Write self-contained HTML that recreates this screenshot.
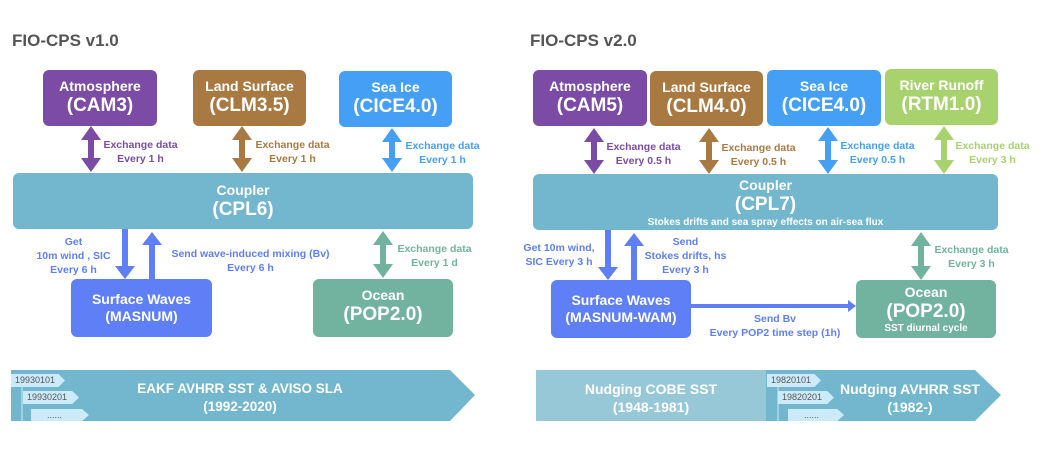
<!DOCTYPE html>
<html><head><meta charset="utf-8"><style>
body{margin:0;width:1041px;height:460px;background:#fff;position:relative;overflow:hidden;font-family:"Liberation Sans","DejaVu Sans",sans-serif;font-weight:bold}
.a{position:absolute}
.b{position:absolute;border-radius:6px;color:#fff;text-align:center;box-sizing:border-box}
.t1{font-size:14px;line-height:17px}
.t2{font-size:19px;line-height:22px}
.l{position:absolute;font-size:10.5px;line-height:14px;text-align:center;white-space:nowrap}
.tab{position:absolute;background:#CCEBFA;color:#555;font-size:9px;font-weight:normal;line-height:13px;padding-left:4px;box-sizing:border-box}
</style></head><body>
<div class="a" style="left:12px;top:31px;font-size:17px;color:#555">FIO-CPS v1.0</div>
<div class="a" style="left:530px;top:31px;font-size:17px;color:#555">FIO-CPS v2.0</div>

<div class="b" style="left:43px;top:70px;width:114px;height:56px;background:#7B4BA6;padding-top:8px"><div class="t1">Atmosphere</div><div class="t2">(CAM3)</div></div>
<div class="b" style="left:193px;top:70px;width:113px;height:56px;background:#A87A41;padding-top:8px"><div class="t1">Land Surface</div><div class="t2">(CLM3.5)</div></div>
<div class="b" style="left:339px;top:71px;width:113px;height:56px;background:#45A0F5;padding-top:8px"><div class="t1">Sea Ice</div><div class="t2">(CICE4.0)</div></div>
<div class="b" style="left:13px;top:173px;width:460px;height:56px;background:#72B7CE;padding-top:9px"><div class="t1">Coupler</div><div class="t2">(CPL6)</div></div>
<div class="b" style="left:71px;top:279px;width:141px;height:58px;background:#5E7FF5;padding-top:12px"><div class="t1">Surface Waves</div><div class="t1">(MASNUM)</div></div>
<div class="b" style="left:313px;top:279px;width:140px;height:58px;background:#72B3A0;padding-top:8px"><div class="t1">Ocean</div><div class="t2">(POP2.0)</div></div>

<div class="b" style="left:533px;top:70px;width:114px;height:56px;background:#7B4BA6;padding-top:8px"><div class="t1">Atmosphere</div><div class="t2">(CAM5)</div></div>
<div class="b" style="left:650px;top:71px;width:113px;height:55px;background:#A87A41;padding-top:8px"><div class="t1">Land Surface</div><div class="t2">(CLM4.0)</div></div>
<div class="b" style="left:767px;top:70px;width:114px;height:56px;background:#45A0F5;padding-top:8px"><div class="t1">Sea Ice</div><div class="t2">(CICE4.0)</div></div>
<div class="b" style="left:885px;top:69px;width:113px;height:56px;background:#A8D26E;padding-top:8px"><div class="t1">River Runoff</div><div class="t2">(RTM1.0)</div></div>
<div class="b" style="left:533px;top:174px;width:465px;height:56px;background:#72B7CE;padding-top:3px"><div class="t1">Coupler</div><div class="t2">(CPL7)</div><div style="font-size:10px;line-height:13px">Stokes drifts and sea spray effects on air-sea flux</div></div>
<div class="b" style="left:551px;top:280px;width:140px;height:58px;background:#5E7FF5;padding-top:12px"><div class="t1">Surface Waves</div><div class="t1">(MASNUM-WAM)</div></div>
<div class="b" style="left:856px;top:280px;width:140px;height:58px;background:#72B3A0;padding-top:4px"><div class="t1">Ocean</div><div class="t2">(POP2.0)</div><div style="font-size:10px;line-height:12px">SST diurnal cycle</div></div>

<svg class="a" style="left:0;top:0" width="1041" height="460">
<defs>
<marker id="h" viewBox="0 0 10 10" refX="5" refY="5" markerWidth="1" markerHeight="1"></marker>
</defs>
<g id="arrows">
<!-- double arrows: polygon -->
<polygon fill="#7B4BA6" points="91,126 101,140 94,140 94,158 101,158 91,172 81,158 88,158 88,140 81,140"/>
<polygon fill="#A87A41" points="242,126 252,140 245,140 245,158 252,158 242,172 232,158 239,158 239,140 232,140"/>
<polygon fill="#45A0F5" points="392,128 402,142 395,142 395,158 402,158 392,172 382,158 389,158 389,142 382,142"/>
<polygon fill="#72B3A0" points="383,231 393,245 386,245 386,264 393,264 383,278 373,264 380,264 380,245 373,245"/>
<polygon fill="#5E7FF5" points="122,229 128,229 128,266 135,266 125,279 115,266 122,266"/>
<polygon fill="#5E7FF5" points="149,279 155,279 155,245 162,245 152,232 142,245 149,245"/>

<polygon fill="#7B4BA6" points="594,128 604,142 597,142 597,160 604,160 594,174 584,160 591,160 591,142 584,142"/>
<polygon fill="#A87A41" points="709,128 719,142 712,142 712,160 719,160 709,174 699,160 706,160 706,142 699,142"/>
<polygon fill="#45A0F5" points="828,127 838,141 831,141 831,160 838,160 828,174 818,160 825,160 825,141 818,141"/>
<polygon fill="#A8D26E" points="944,126 954,140 947,140 947,160 954,160 944,174 934,160 941,160 941,140 934,140"/>
<polygon fill="#72B3A0" points="921,232 931,246 924,246 924,266 931,266 921,280 911,266 918,266 918,246 911,246"/>
<polygon fill="#5E7FF5" points="605,230 611,230 611,267 618,267 608,280 598,267 605,267"/>
<polygon fill="#5E7FF5" points="631,280 637,280 637,246 644,246 634,233 624,246 631,246"/>
<polygon fill="#5E7FF5" points="691,304 848,304 848,300 856,306 848,312 848,308 691,308"/>
</g>
<!-- bottom bars -->
<polygon fill="#72B7CE" points="11,370 450,370 475,395 450,421 11,421"/>
<polygon fill="#96C8D8" points="536,370 766,370 766,421 536,421"/>
<polygon fill="#72B7CE" points="766,370 975,370 1001,395 975,421 766,421"/>
<line x1="22" y1="387" x2="22" y2="421" stroke="#CCEBFA" stroke-width="1"/>
<line x1="778" y1="387" x2="778" y2="421" stroke="#CCEBFA" stroke-width="1"/>
</svg>

<div class="l" style="left:98px;top:138px;color:#7B4BA6;width:85px">Exchange data<br>Every 1 h</div>
<div class="l" style="left:250px;top:138px;color:#A87A41;width:85px">Exchange data<br>Every 1 h</div>
<div class="l" style="left:400px;top:139px;color:#45A0F5;width:85px">Exchange data<br>Every 1 h</div>
<div class="l" style="left:26px;top:235px;color:#5E7FF5;width:95px">Get<br>10m wind , SIC<br>Every 6 h</div>
<div class="l" style="left:158px;top:247px;color:#5E7FF5;width:185px">Send wave-induced mixing (Bv)<br>Every 6 h</div>
<div class="l" style="left:392px;top:242px;color:#72B3A0;width:85px">Exchange data<br>Every 1 d</div>

<div class="l" style="left:601px;top:140px;color:#7B4BA6;width:85px">Exchange data<br>Every 0.5 h</div>
<div class="l" style="left:716px;top:141px;color:#A87A41;width:85px">Exchange data<br>Every 0.5 h</div>
<div class="l" style="left:835px;top:139px;color:#45A0F5;width:85px">Exchange data<br>Every 0.5 h</div>
<div class="l" style="left:950px;top:139px;color:#A8D26E;width:85px">Exchange data<br>Every 3 h</div>
<div class="l" style="left:514px;top:241px;color:#5E7FF5;width:90px">Get 10m wind,<br>SIC Every 3 h</div>
<div class="l" style="left:638px;top:235px;color:#5E7FF5;width:95px">Send<br>Stokes drifts, hs<br>Every 3 h</div>
<div class="l" style="left:929px;top:243px;color:#72B3A0;width:85px">Exchange data<br>Every 3 h</div>
<div class="l" style="left:700px;top:312px;color:#5E7FF5;width:150px">Send Bv<br>Every POP2 time step (1h)</div>

<div class="tab" style="left:11px;top:374px;width:54px;clip-path:polygon(0 0,88% 0,100% 50%,88% 100%,0 100%)">19930101</div>
<div class="tab" style="left:23px;top:391px;width:56px;clip-path:polygon(0 0,88% 0,100% 50%,88% 100%,0 100%)">19930201</div>
<div class="tab" style="left:31px;top:409px;width:58px;height:12px;clip-path:polygon(0 0,88% 0,100% 50%,88% 100%,0 100%);padding-left:16px">......</div>
<div class="a" style="left:110px;top:380px;width:260px;text-align:center;color:#fff;font-size:13.5px;line-height:18px">EAKF AVHRR SST &amp; AVISO SLA<br>(1992-2020)</div>

<div class="tab" style="left:767px;top:374px;width:54px;clip-path:polygon(0 0,88% 0,100% 50%,88% 100%,0 100%)">19820101</div>
<div class="tab" style="left:778px;top:391px;width:56px;clip-path:polygon(0 0,88% 0,100% 50%,88% 100%,0 100%)">19820201</div>
<div class="tab" style="left:788px;top:409px;width:56px;height:12px;clip-path:polygon(0 0,88% 0,100% 50%,88% 100%,0 100%);padding-left:16px">......</div>
<div class="a" style="left:556px;top:380px;width:190px;text-align:center;color:#fff;font-size:14px;line-height:18px">Nudging COBE SST<br>(1948-1981)</div>
<div class="a" style="left:830px;top:380px;width:160px;text-align:center;color:#fff;font-size:14px;line-height:18px">Nudging AVHRR SST<br>(1982-)</div>
</body></html>
